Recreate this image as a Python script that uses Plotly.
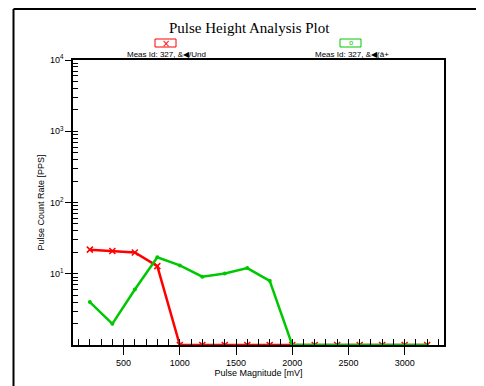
import plotly.graph_objects as go

pulse_mv = [200, 400, 600, 800, 1000, 1200, 1400, 1600, 1800, 2000, 2200, 2400, 2600, 2800, 3000, 3200]
red_pps = [21.8, 20.9, 19.9, 12.8, 1, 1, 1, 1, 1, 1, 1, 1, 1, 1, 1, 1]
green_pps = [4.0, 1.98, 6.0, 17.0, 13.1, 9.1, 10.1, 12.0, 7.95, 1, 1, 1, 1, 1, 1, 1]
x_major = [500, 1000, 1500, 2000, 2500, 3000]
y_major = [10, 100, 1000, 10000]
y_major_text = ["10<sup>1</sup>", "10<sup>2</sup>", "10<sup>3</sup>", "10<sup>4</sup>"]
legend_labels = ["Meas Id: 327, &\u25c0/Und", "Meas Id: 327, &\u25c0(\u00e2+"]

RED = "#FF0000"
GREEN = "#00C800"
W, H = 484, 386
OFF = 8  # page body margin in the viewer
# plot area in page pixels: x 73..444, y 60..345
L, R, T, B = 73 - OFF, W - 444 + OFF, 60 - OFF, H - 345 + OFF
PW, PH = W - L - R, H - T - B

def px(x):
    return (x - OFF - L) / PW

def py(y):
    return (H - B - (y - OFF)) / PH

y_minor = [m * 10 ** k for k in range(0, 4) for m in range(2, 10)]
x_minor = list(range(100, 3400, 100))

fig = go.Figure()
fig.add_trace(go.Scatter(x=pulse_mv, y=red_pps, mode="lines+markers",
                         line=dict(color=RED, width=2.5),
                         marker=dict(symbol="x-thin", size=6, color=RED,
                                     line=dict(color=RED, width=1.5)),
                         showlegend=False))
fig.add_trace(go.Scatter(x=pulse_mv, y=green_pps, mode="lines+markers",
                         line=dict(color=GREEN, width=2.5),
                         marker=dict(symbol="circle", size=4, color=GREEN),
                         showlegend=False))
# empty carrier trace for the overlay axes
fig.add_trace(go.Scatter(x=[], y=[], xaxis="x2", yaxis="y2", showlegend=False))

tickfont = dict(family="Liberation Sans, Arial", size=9, color="#000")
fig.update_layout(
    width=W, height=H, margin=dict(l=L, r=R, t=T, b=B),
    paper_bgcolor="white", plot_bgcolor="white",
    xaxis=dict(range=[50, 3350], showgrid=False, zeroline=False,
               tickmode="array", tickvals=x_major, ticks="outside", ticklen=8,
               tickcolor="#000", tickwidth=1, tickfont=tickfont,
               showline=True, linecolor="#000", linewidth=1.5, mirror=True,
               minor=dict(tickmode="array", tickvals=x_minor, ticks="inside",
                          ticklen=6, tickcolor="#000", tickwidth=1),
               title=dict(text="Pulse Magnitude [mV]", standoff=3,
                          font=dict(family="Liberation Sans, Arial", size=9, color="#000"))),
    yaxis=dict(type="log", range=[0, 4], showgrid=False, zeroline=False,
               tickmode="array", tickvals=y_major, ticktext=y_major_text,
               ticks="outside", ticklen=6, tickcolor="#000", tickwidth=1,
               tickfont=tickfont,
               showline=True, linecolor="#000", linewidth=1.5, mirror=True,
               minor=dict(tickmode="array", tickvals=y_minor, ticks="inside",
                          ticklen=5, tickcolor="#000", tickwidth=1),
               title=dict(text="Pulse Count Rate [PPS]", standoff=4,
                          font=dict(family="Liberation Sans, Arial", size=9, color="#000"))),
    xaxis2=dict(overlaying="x", range=[50, 3350], showgrid=False, zeroline=False,
                tickmode="array", tickvals=x_major, ticks="inside", ticklen=6,
                tickcolor="#000", showticklabels=False, anchor="y2", side="bottom"),
    yaxis2=dict(overlaying="y", type="log", range=[0, 4], showgrid=False, zeroline=False,
                tickmode="array", tickvals=y_major, ticks="inside", ticklen=5,
                tickcolor="#000", showticklabels=False, anchor="x2", side="left"),
)

# outer frame (left and top edges)
fig.add_shape(type="line", xref="paper", yref="paper", x0=px(13.5), x1=px(13.5),
              y0=py(9), y1=py(H + 20), line=dict(color="#000", width=2))
fig.add_shape(type="line", xref="paper", yref="paper", x0=px(13.5), x1=px(W + 20),
              y0=py(9), y1=py(9), line=dict(color="#000", width=2))

# title
fig.add_annotation(text="Pulse Height Analysis Plot", xref="paper", yref="paper",
                   x=px(249), y=py(28), xanchor="center", yanchor="middle", showarrow=False,
                   font=dict(family="Liberation Serif, Times New Roman", size=15, color="#000"))

# legend
legend_centers = [165.5, 350.5]
legend_colors = [RED, GREEN]
legend_symbols = ["\u00d7", "o"]
for cx, col, sym, lab in zip(legend_centers, legend_colors, legend_symbols, legend_labels):
    fig.add_shape(type="rect", xref="paper", yref="paper",
                  x0=px(cx - 10.5), x1=px(cx + 10.5), y0=py(47), y1=py(39),
                  line=dict(color=col, width=1), fillcolor="white")
    fig.add_annotation(text=sym, xref="paper", yref="paper", x=px(cx), y=py(43),
                       xanchor="center", yanchor="middle", showarrow=False,
                       font=dict(family="DejaVu Sans", size=7 if sym == "o" else 10, color=col))
    fig.add_annotation(text=lab, xref="paper", yref="paper", x=px(cx + 1), y=py(54.5),
                       xanchor="center", yanchor="middle", showarrow=False,
                       font=dict(family="Liberation Sans, Arial", size=8, color="#000"))

fig.write_html("out.html")
